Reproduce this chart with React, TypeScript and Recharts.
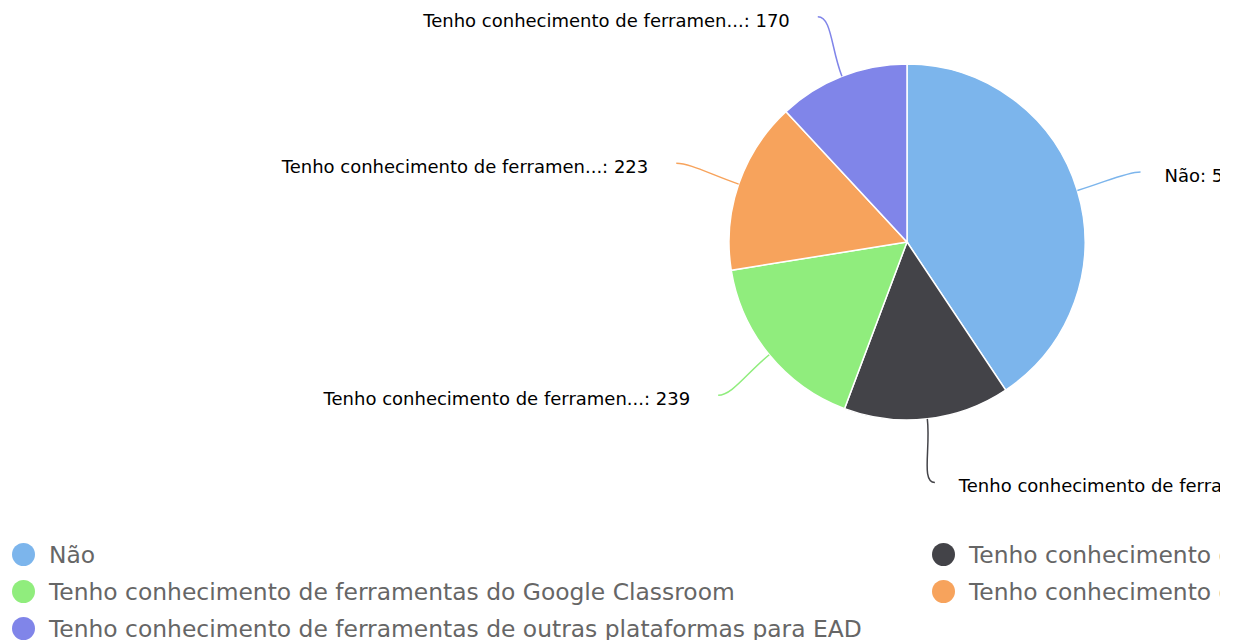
import { PieChart, Pie, Cell, Legend } from 'recharts';

const categories = [
  'Não',
  'Tenho conhecimento de ferramentas do Moodle',
  'Tenho conhecimento de ferramentas do Google Classroom',
  'Tenho conhecimento de ferramentas do Microsoft Teams',
  'Tenho conhecimento de ferramentas de outras plataformas para EAD',
];
const counts = [580, 215, 239, 223, 170];
const COLORS = ['#7cb5ec', '#434348', '#90ed7d', '#f7a35c', '#8085e9'];

const chartData = categories.map((name, i) => ({ name, value: counts[i] }));

const RADIAN = Math.PI / 180;

const shorten = (name: string) => (name.length > 30 ? name.slice(0, 30) + '...' : name);

// highcharts-ish label: curved connector from slice edge, text beside it
const renderLabel = (props: any) => {
  const { cx, cy, midAngle, outerRadius, name, value, index } = props;
  const color = COLORS[index % COLORS.length];
  const cos = Math.cos(-midAngle * RADIAN);
  const sin = Math.sin(-midAngle * RADIAN);
  const sx = cx + outerRadius * cos;
  const sy = cy + outerRadius * sin;
  const ex = cx + (outerRadius + 66) * cos;
  const ey = cy + (outerRadius + 64) * sin;
  const right = cos >= 0;
  const c1x = cx + (outerRadius + 30) * cos;
  const c1y = cy + (outerRadius + 30) * sin;
  const c2x = ex + (right ? -14 : 14);
  const path = `M${sx},${sy} C${c1x},${c1y} ${c2x},${ey} ${ex},${ey}`;
  return (
    <g>
      <path d={path} stroke={color} strokeWidth={1.5} fill="none" />
      <text
        x={right ? ex + 24 : ex - 28}
        y={ey + 5}
        textAnchor={right ? 'start' : 'end'}
        dominantBaseline="middle"
        fill="#000"
        fontSize={18}
        fontFamily="DejaVu Sans"
      >
        {`${shorten(name)}: ${value}`}
      </text>
    </g>
  );
};

// legend in the original series order (recharts sorts its payload by default)
const CustomLegend = () => {
  return (
    <div
      style={{
        display: 'grid',
        gridTemplateColumns: '920px 480px',
        gridAutoRows: '37px',
        paddingLeft: 4,
        fontFamily: 'DejaVu Sans',
        fontSize: 23.4,
        color: '#666666',
      }}
    >
      {categories.map((name, index) => (
        <div key={`item-${index}`} style={{ display: 'flex', alignItems: 'center', whiteSpace: 'nowrap' }}>
          <div
            style={{
              width: 23,
              height: 23,
              borderRadius: '50%',
              backgroundColor: COLORS[index % COLORS.length],
              marginRight: 14,
              flexShrink: 0,
            }}
          />
          <span>{name}</span>
        </div>
      ))}
    </div>
  );
};

export default function App() {
  return (
    <div style={{ width: 1212, height: 632, overflow: 'hidden', position: 'relative' }}>
      <PieChart width={1400} height={632} margin={{ top: 0, right: 0, bottom: 0, left: 0 }}>
        <Pie
          data={chartData}
          dataKey="value"
          nameKey="name"
          cx={899}
          cy={234}
          outerRadius={178}
          startAngle={90}
          endAngle={-270}
          stroke="#ffffff"
          strokeWidth={1.5}
          labelLine={false}
          label={renderLabel}
          isAnimationActive={false}
        >
          {chartData.map((entry, index) => (
            <Cell key={`cell-${index}`} fill={COLORS[index % COLORS.length]} />
          ))}
        </Pie>
        <Legend
          content={<CustomLegend />}
          verticalAlign="bottom"
          align="left"
          wrapperStyle={{ position: 'absolute', top: 528, left: 0, width: 1400, bottom: 'auto' }}
        />
      </PieChart>
    </div>
  );
}
